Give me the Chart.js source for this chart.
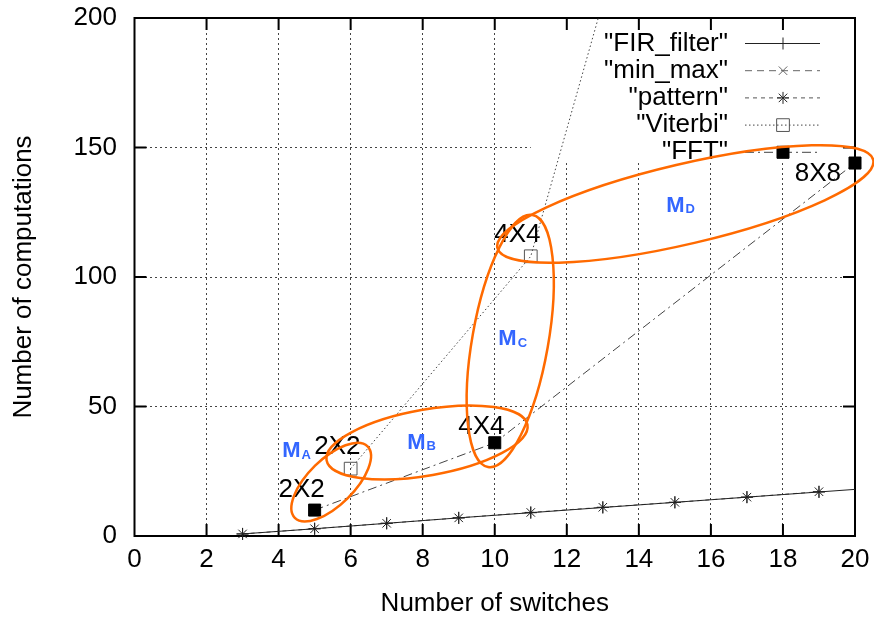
<!DOCTYPE html>
<html>
<head>
<meta charset="utf-8">
<script src="https://cdn.jsdelivr.net/npm/chart.js@4"></script>
<style>
  html, body { margin: 0; padding: 0; background: #fff; }
  #wrap { width: 874px; height: 619px; }
</style>
</head>
<body>
<div id="wrap"><canvas id="chart" width="874" height="619"></canvas></div>
<script>
// axis ticks
const xTickValues = [0, 2, 4, 6, 8, 10, 12, 14, 16, 18, 20];
const yTickValues = [0, 50, 100, 150, 200];

// series
const seriesNames = ['"FIR_filter"', '"min_max"', '"pattern"', '"Viterbi"', '"FFT"'];
const firX = [3, 5, 7, 9, 11, 13, 15, 17, 19, 21];
const firY = [0.8, 2.8, 4.9, 7, 9, 11, 13, 15, 17, 19];
const minMaxX = [];
const minMaxY = [];
const patternX = [3, 5, 7, 9, 11, 13, 15, 17, 19];
const patternY = [0.8, 2.8, 4.9, 7, 9.1, 11.1, 13, 15, 17.1];
const viterbiX = [6, 11, 20];
const viterbiY = [26, 108, 550];
const fftX = [5, 10, 20];
const fftY = [10, 36, 144];

// annotation texts
const sizeLabels = ['2X2', '2X2', '4X4', '4X4', '8X8'];
const groupNames = ['A', 'B', 'C', 'D'];

// where the annotations sit (data units; ellipse radii in px)
const annotations = {
    sizeAt: [[4.64, 17.8], [5.63, 34.4], [9.63, 42], [10.63, 116.2], [18.97, 140]],
    groupAt: [[4.10, 30.5], [7.57, 33.6], [10.10, 73.7], [14.76, 125.1]],
    ellipses: [
        { x: 5.46, y: 20.8, rx: 51, ry: 23, angle: -44.5 },
        { x: 8.12, y: 36.1, rx: 102, ry: 33, angle: -10 },
        { x: 10.43, y: 75.3, rx: 128, ry: 38, angle: -80 },
        { x: 15.29, y: 128.2, rx: 193, ry: 40, angle: -13.2 },
    ],
    keyFrom: { x: 11, y: 144 },
};

const FONT = '"Liberation Sans", Arial, sans-serif';
Chart.defaults.font.family = FONT;

const toPoints = (xs, ys) => xs.map((x, i) => ({ x, y: ys[i] }));

const frame = {
    id: 'frame',
    beforeDatasetsDraw(chart) {
        const { ctx, chartArea: a, scales } = chart;
        ctx.save();
        // gnuplot leaves the key area free of grid
        const kx = scales.x.getPixelForValue(annotations.keyFrom.x);
        const ky = scales.y.getPixelForValue(annotations.keyFrom.y);
        ctx.fillStyle = '#fff';
        ctx.fillRect(kx, a.top, a.right - kx, ky - a.top);

        // inward ticks on all four sides
        ctx.strokeStyle = '#000';
        ctx.lineWidth = 2;
        ctx.beginPath();
        xTickValues.slice(1, -1).forEach(v => {
            const p = scales.x.getPixelForValue(v);
            ctx.moveTo(p, a.bottom); ctx.lineTo(p, a.bottom - 12);
            ctx.moveTo(p, a.top); ctx.lineTo(p, a.top + 12);
        });
        yTickValues.slice(1, -1).forEach(v => {
            const p = scales.y.getPixelForValue(v);
            ctx.moveTo(a.left, p); ctx.lineTo(a.left + 12, p);
            ctx.moveTo(a.right, p); ctx.lineTo(a.right - 12, p);
        });
        ctx.stroke();
        ctx.strokeRect(a.left, a.top, a.right - a.left, a.bottom - a.top);
        ctx.restore();
    }
};

const overlay = {
    id: 'overlay',
    afterDatasetsDraw(chart) {
        const { ctx, chartArea: a, scales } = chart;
        const X = v => scales.x.getPixelForValue(v);
        const Y = v => scales.y.getPixelForValue(v);
        ctx.save();

        // key
        chart.data.datasets.forEach((ds, i) => {
            const y = a.top + 25.5 + i * 27.2;
            ctx.font = '26px ' + FONT;
            ctx.fillStyle = '#000';
            ctx.textAlign = 'right';
            ctx.textBaseline = 'middle';
            ctx.fillText(ds.label, a.right - 127, y);
            ctx.save();
            ctx.strokeStyle = ds.borderColor;
            ctx.lineWidth = ds.borderWidth;
            ctx.setLineDash(ds.borderDash || []);
            ctx.beginPath();
            ctx.moveTo(a.right - 110, y);
            ctx.lineTo(a.right - 35, y);
            ctx.stroke();
            ctx.restore();
            ctx.strokeStyle = ds.pointBorderColor;
            ctx.fillStyle = ds.pointBackgroundColor;
            ctx.lineWidth = ds.pointBorderWidth;
            Chart.helpers.drawPoint(ctx, {
                pointStyle: ds.pointStyle, radius: ds.pointRadius,
                rotation: 0, borderWidth: ds.pointBorderWidth
            }, a.right - 72, y);
        });

        // matrix size labels
        ctx.font = '26px ' + FONT;
        ctx.fillStyle = '#000';
        ctx.textAlign = 'center';
        ctx.textBaseline = 'middle';
        sizeLabels.forEach((t, i) => {
            const [x, y] = annotations.sizeAt[i];
            ctx.fillText(t, X(x), Y(y));
        });

        // group labels M_A .. M_D
        ctx.fillStyle = '#3366ff';
        ctx.textAlign = 'left';
        ctx.textBaseline = 'alphabetic';
        groupNames.forEach((g, i) => {
            const [x, y] = annotations.groupAt[i];
            ctx.font = 'bold 22px ' + FONT;
            ctx.fillText('M', X(x), Y(y));
            const w = ctx.measureText('M').width;
            ctx.font = 'bold 13px ' + FONT;
            ctx.fillText(g, X(x) + w + 1, Y(y) + 1.5);
        });

        // group ellipses
        ctx.strokeStyle = '#ff6a00';
        ctx.lineWidth = 2.5;
        annotations.ellipses.forEach(e => {
            ctx.beginPath();
            ctx.ellipse(X(e.x), Y(e.y), e.rx, e.ry, e.angle * Math.PI / 180, 0, Math.PI * 2);
            ctx.stroke();
        });
        ctx.restore();
    }
};

new Chart(document.getElementById('chart'), {
    type: 'line',
    data: {
        datasets: [
            {
                label: seriesNames[0],
                data: toPoints(firX, firY),
                borderColor: '#222',
                borderWidth: 1,
                borderDash: [],
                pointStyle: 'cross',
                pointRadius: 6,
                pointBorderColor: '#222',
                pointBackgroundColor: '#222',
                pointBorderWidth: 1,
                clip: { left: 12, top: 0, right: 0, bottom: 12 },
            },
            {
                label: seriesNames[1],
                data: toPoints(minMaxX, minMaxY),
                borderColor: '#666',
                borderWidth: 1,
                borderDash: [7, 5],
                pointStyle: 'crossRot',
                pointRadius: 6,
                pointBorderColor: '#666',
                pointBackgroundColor: '#666',
                pointBorderWidth: 1,
            },
            {
                label: seriesNames[2],
                data: toPoints(patternX, patternY),
                borderColor: '#555',
                borderWidth: 1,
                borderDash: [4, 4],
                pointStyle: 'star',
                pointRadius: 6,
                pointBorderColor: '#222',
                pointBackgroundColor: '#222',
                pointBorderWidth: 1,
                clip: 12,
            },
            {
                label: seriesNames[3],
                data: toPoints(viterbiX, viterbiY),
                borderColor: '#444',
                borderWidth: 1,
                borderDash: [1.5, 2.5],
                pointStyle: 'rect',
                pointRadius: 9,
                pointBorderColor: '#555',
                pointBackgroundColor: 'rgba(0,0,0,0)',
                pointBorderWidth: 1,
                clip: { left: 12, top: 0, right: 0, bottom: 12 },
            },
            {
                label: seriesNames[4],
                data: toPoints(fftX, fftY),
                borderColor: '#444',
                borderWidth: 1,
                borderDash: [9, 4, 2, 4],
                pointStyle: 'rect',
                pointRadius: 8.5,
                pointBorderColor: '#000',
                pointBackgroundColor: '#000',
                pointBorderWidth: 1,
                clip: 12,
            },
        ]
    },
    options: {
        responsive: false,
        animation: false,
        devicePixelRatio: 1,
        layout: { padding: { top: 18, right: 19, left: 0, bottom: 0 } },
        elements: { line: { tension: 0, fill: false } },
        plugins: {
            legend: { display: false },
            tooltip: { enabled: false },
        },
        scales: {
            x: {
                type: 'linear',
                min: 0,
                max: 20,
                afterBuildTicks: (s) => { s.ticks = xTickValues.map(v => ({ value: v })); },
                afterFit: (s) => { s.height = 83; s.paddingLeft = 0; s.paddingRight = 0; },
                ticks: { font: { size: 26 }, color: '#000', padding: 8, autoSkip: false, maxRotation: 0 },
                grid: { color: '#444', lineWidth: 1, drawTicks: false },
                border: { display: false, dash: [2, 3] },
                title: {
                    display: true,
                    text: 'Number of switches',
                    color: '#000',
                    font: { size: 26 },
                    padding: { top: 0, bottom: 0 },
                }
            },
            y: {
                type: 'linear',
                min: 0,
                max: 200,
                afterBuildTicks: (s) => { s.ticks = yTickValues.map(v => ({ value: v })); },
                afterFit: (s) => { s.width = 134.5; s.paddingTop = 0; s.paddingBottom = 0; },
                ticks: { font: { size: 26 }, color: '#000', padding: 17.5, autoSkip: false },
                grid: { color: '#444', lineWidth: 1, drawTicks: false },
                border: { display: false, dash: [2, 3] },
                title: {
                    display: true,
                    text: 'Number of computations',
                    color: '#000',
                    font: { size: 26 },
                    padding: { top: 8, bottom: 0 },
                }
            }
        }
    },
    plugins: [frame, overlay]
});
</script>
</body>
</html>
